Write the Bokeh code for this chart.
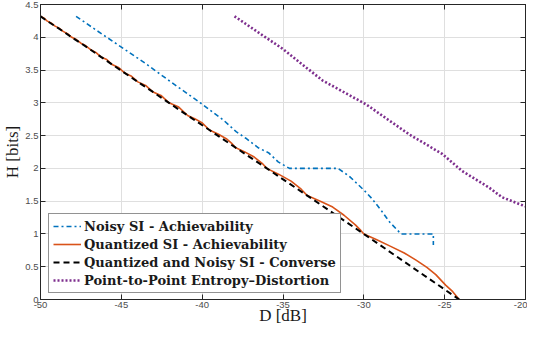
from bokeh.plotting import figure
from bokeh.models import Legend, LegendItem, LinearAxis, FixedTicker, Range1d, NumeralTickFormatter
from bokeh.embed import file_html
from bokeh.resources import INLINE

# ---- data ----
x_ticks = [-50, -45, -40, -35, -30, -25, -20]
y_ticks = [0, 0.5, 1, 1.5, 2, 2.5, 3, 3.5, 4, 4.5]

noisy_D = [-47.8, -46.5, -45.0, -43.5, -42.0, -40.0, -38.7, -37.9, -37.3, -36.5, -35.9, -35.3, -34.6,
           -31.6, -30.9, -30.0, -29.5, -28.9, -28.4, -27.7, -25.7, -25.7]
noisy_H = [4.32, 4.10, 3.85, 3.60, 3.33, 2.98, 2.74, 2.56, 2.46, 2.31, 2.24, 2.10, 2.0,
           2.0, 1.88, 1.67, 1.54, 1.35, 1.18, 1.0, 1.0, 0.83]

quant_D = [-50.0, -49.8, -49.6, -49.35, -49.1, -48.85, -48.6, -48.33, -48.07, -47.78, -47.5, -47.2,
           -46.9, -46.58, -46.26, -45.9, -45.57, -45.18, -44.82, -44.4, -43.98, -43.5, -43.07,
           -42.55, -42.05, -41.45, -40.9, -40.43, -40.02, -39.55, -38.99, -38.51, -38.19, -37.95,
           -37.37, -36.78, -36.29, -36.0, -35.25, -34.5, -33.875, -33.5, -32.625, -31.925, -31.225,
           -30.525, -30.175, -30.0, -29.2, -28.34, -27.5, -26.77, -26.1, -25.55, -24.94, -24.5, -24.1]
quant_H = [4.32, 4.295, 4.25, 4.22, 4.17, 4.14, 4.09, 4.055, 4.0, 3.965, 3.91, 3.87,
           3.81, 3.77, 3.70, 3.66, 3.585, 3.54, 3.46, 3.41, 3.32, 3.266, 3.17,
           3.113, 3.0, 2.935, 2.807, 2.754, 2.698, 2.585, 2.52, 2.453, 2.385, 2.32,
           2.252, 2.173, 2.078, 2.0, 1.908, 1.806, 1.682, 1.585, 1.49, 1.41, 1.285,
           1.138, 1.05, 1.0, 0.91, 0.81, 0.71, 0.60, 0.49, 0.38, 0.22, 0.12, 0.0]

conv_D = [-50.0, -49.6, -49.1, -48.6, -48.07, -47.5, -46.9, -46.26, -45.57, -44.82, -43.98, -43.07,
          -42.05, -40.9, -39.55, -37.95, -36.0, -33.5, -30.0, -24.1]
conv_H = [4.32, 4.25, 4.17, 4.09, 4.0, 3.91, 3.81, 3.70, 3.585, 3.46, 3.32, 3.17,
          3.0, 2.807, 2.585, 2.32, 2.0, 1.585, 1.0, 0.0]

p2p_D = [-38.0, -35.0, -32.55, -29.88, -27.2, -25.15, -23.92, -22.27, -21.45, -20.63, -20.0]
p2p_H = [4.32, 3.82, 3.34, 2.98, 2.52, 2.22, 1.96, 1.71, 1.56, 1.48, 1.42]

labels = ["Noisy SI - Achievability",
          "Quantized SI - Achievability",
          "Quantized and Noisy SI - Converse",
          "Point-to-Point Entropy\u2013Distortion"]

AX = "#262626"

p = figure(width=527, height=327, x_range=Range1d(-50, -20), y_range=Range1d(0, 4.5),
           output_backend="svg", toolbar_location=None,
           min_border_left=30, min_border_right=2, min_border_top=4, min_border_bottom=20)
p.background_fill_color = "white"
p.border_fill_color = "white"
p.outline_line_color = AX
p.outline_line_width = 1

def style_axis(ax, show_labels=True):
    ax.axis_line_color = AX
    ax.major_tick_line_color = AX
    ax.major_tick_in = 5
    ax.major_tick_out = 0
    ax.minor_tick_line_color = None
    ax.major_label_text_font = "Liberation Sans"
    if show_labels:
        ax.major_label_text_font_size = "9.5px"
        ax.major_label_text_color = "#4d4d4d"
        ax.major_label_standoff = 2
    else:
        ax.major_label_text_font_size = "1px"
        ax.major_label_text_color = None
        ax.major_label_standoff = 0

p.xaxis.ticker = FixedTicker(ticks=x_ticks)
p.yaxis.ticker = FixedTicker(ticks=y_ticks)
p.xaxis.formatter = NumeralTickFormatter(format="0")
p.yaxis.formatter = NumeralTickFormatter(format="0.[0]")
style_axis(p.xaxis[0])
style_axis(p.yaxis[0])
p.xaxis.axis_label = "D [dB]"
p.yaxis.axis_label = "H [bits]"
for ax in (p.xaxis[0], p.yaxis[0]):
    ax.axis_label_text_font = "Liberation Serif"
    ax.axis_label_text_font_style = "normal"
    ax.axis_label_text_font_size = "17px"
    ax.axis_label_text_color = "#1a1a1a"
p.xaxis.axis_label_standoff = -5
p.yaxis.axis_label_standoff = 0

top = LinearAxis(ticker=FixedTicker(ticks=x_ticks))
right = LinearAxis(ticker=FixedTicker(ticks=y_ticks))
style_axis(top, False)
style_axis(right, False)
p.add_layout(top, "above")
p.add_layout(right, "right")

p.grid.grid_line_color = "#dfdfdf"
p.grid.grid_line_width = 1
p.xgrid.ticker = FixedTicker(ticks=x_ticks)
p.ygrid.ticker = FixedTicker(ticks=y_ticks)

r_noisy = p.line(noisy_D, noisy_H, line_color="#0072BD", line_width=1.6, line_dash="5 3 2 3")
r_quant = p.line(quant_D, quant_H, line_color="#D95319", line_width=1.6)
r_conv = p.line(conv_D, conv_H, line_color="black", line_width=2.0, line_dash="6 4")
r_p2p = p.line(p2p_D, p2p_H, line_color="#7E2F8E", line_width=2.6, line_dash="2 2")

legend = Legend(items=[LegendItem(label=labels[0], renderers=[r_noisy]),
                       LegendItem(label=labels[1], renderers=[r_quant]),
                       LegendItem(label=labels[2], renderers=[r_conv]),
                       LegendItem(label=labels[3], renderers=[r_p2p])],
                location=(8, 6), orientation="vertical",
                label_text_font="DejaVu Serif", label_text_font_style="bold",
                label_text_font_size="13px", label_text_color="#1a1a1a",
                glyph_width=28, glyph_height=16, label_height=16, label_standoff=3,
                spacing=2, padding=4, margin=0,
                border_line_color=AX, border_line_width=1,
                background_fill_color="white", background_fill_alpha=1)
p.add_layout(legend)

open("out.html", "w").write(file_html(p, INLINE))
